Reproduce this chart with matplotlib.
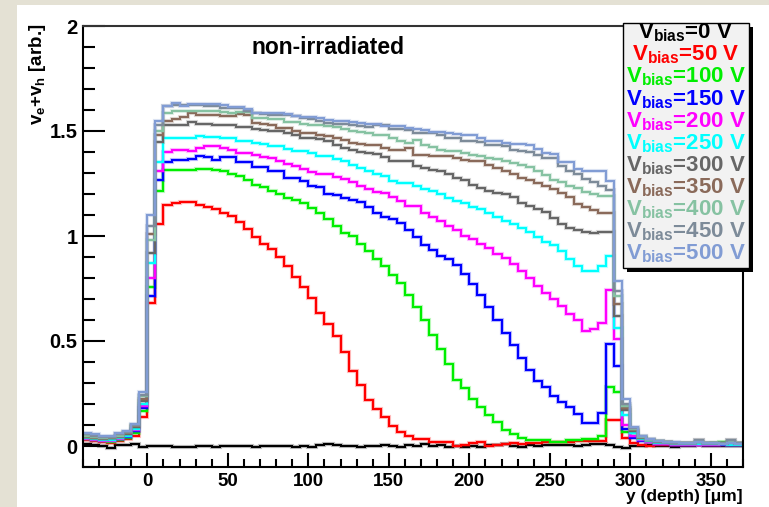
import numpy as np
import matplotlib
matplotlib.use("Agg")
import matplotlib.pyplot as plt
from matplotlib.patches import Rectangle
import matplotlib.patheffects as pe

plt.rcParams['font.family'] = ['Liberation Sans', 'DejaVu Sans']
plt.rcParams['mathtext.fontset'] = 'custom'
plt.rcParams['mathtext.rm'] = 'Liberation Sans:bold'
plt.rcParams['mathtext.it'] = 'Liberation Sans:bold'
plt.rcParams['mathtext.bf'] = 'Liberation Sans:bold'

# ---------------- data ----------------
bin_edges_um = list(range(-40, 371, 5))   # 82 bins of 5 um
bias_labels = ["0", "50", "100", "150", "200", "250", "300", "350", "400", "450", "500"]
series_colors = ["#000000", "#ff0000", "#00ee00", "#0000ff", "#ff00ff", "#00ffff",
                 "#666666", "#8a6a5a", "#86c2a2", "#7d8b99", "#819cd4"]

v0 = [0.010, 0.005, 0.000, -0.008, 0.005, 0.005, 0.008, -0.005, 0.000, 0.000,
      0.000, -0.003, -0.003, -0.003, 0.002, 0.002, -0.003, 0.000, 0.000, 0.000,
      0.000, -0.003, 0.000, 0.000, 0.000, 0.000, -0.003, 0.000, -0.003, 0.003,
      0.008, 0.003, 0.000, 0.000, -0.003, 0.000, 0.000, 0.005, 0.000, -0.005,
      0.003, 0.000, 0.008, 0.000, 0.005, -0.003, 0.000, -0.005, 0.000, -0.003,
      0.003, 0.005, 0.008, 0.000, -0.003, 0.003, 0.000, 0.005, 0.003, 0.005,
      0.003, 0.000, 0.003, 0.008, 0.008, 0.003, -0.003, -0.008, 0.000, 0.000,
      0.003, 0.000, 0.000, -0.003, 0.000, 0.000, 0.003, 0.000, 0.000, 0.000,
      0.000, 0.000]
v50 = [0.030, 0.025, 0.020, 0.015, 0.025, 0.035, 0.050, 0.140, 0.680, 1.055,
       1.147, 1.158, 1.160, 1.160, 1.150, 1.138, 1.127, 1.111, 1.095, 1.065,
       1.035, 0.995, 0.963, 0.937, 0.900, 0.858, 0.805, 0.758, 0.707, 0.631,
       0.581, 0.525, 0.449, 0.359, 0.291, 0.220, 0.178, 0.138, 0.095, 0.068,
       0.046, 0.035, 0.035, 0.019, 0.020, 0.020, 0.000, 0.005, 0.015, 0.020,
       0.000, 0.005, 0.010, 0.015, 0.010, 0.015, 0.015, 0.020, 0.020, 0.020,
       0.020, 0.025, 0.025, 0.025, 0.025, 0.125, 0.125, 0.040, 0.012, 0.005,
       0.000, 0.005, 0.005, 0.003, 0.005, 0.003, 0.005, 0.003, 0.005, 0.003,
       0.005, 0.003]
v100 = [0.035, 0.030, 0.025, 0.020, 0.030, 0.040, 0.060, 0.165, 0.755, 1.214,
        1.312, 1.312, 1.316, 1.316, 1.320, 1.320, 1.316, 1.310, 1.296, 1.285,
        1.269, 1.245, 1.232, 1.214, 1.198, 1.180, 1.170, 1.158, 1.134, 1.111,
        1.079, 1.047, 1.016, 1.000, 0.963, 0.929, 0.889, 0.858, 0.815, 0.778,
        0.720, 0.660, 0.600, 0.530, 0.460, 0.390, 0.312, 0.277, 0.225, 0.185,
        0.146, 0.114, 0.075, 0.059, 0.040, 0.027, 0.027, 0.027, 0.019, 0.019,
        0.027, 0.027, 0.035, 0.035, 0.046, 0.280, 0.256, 0.066, 0.050, 0.040,
        0.025, 0.015, 0.015, 0.010, 0.010, 0.010, 0.008, 0.010, 0.015, 0.020,
        0.010, 0.008]
v150 = [0.040, 0.035, 0.030, 0.030, 0.035, 0.045, 0.070, 0.180, 0.715, 1.269,
        1.353, 1.360, 1.360, 1.366, 1.382, 1.374, 1.360, 1.374, 1.374, 1.353,
        1.353, 1.330, 1.330, 1.310, 1.310, 1.275, 1.275, 1.260, 1.240, 1.235,
        1.200, 1.195, 1.180, 1.170, 1.160, 1.140, 1.110, 1.090, 1.079, 1.063,
        1.027, 0.995, 0.957, 0.932, 0.905, 0.889, 0.862, 0.821, 0.771, 0.720,
        0.660, 0.600, 0.540, 0.480, 0.420, 0.360, 0.310, 0.280, 0.240, 0.209,
        0.185, 0.154, 0.109, 0.109, 0.158, 0.486, 0.380, 0.080, 0.040, 0.025,
        0.020, 0.010, 0.010, 0.005, 0.005, 0.003, 0.005, 0.005, 0.003, 0.005,
        0.005, 0.003]
v200 = [0.035, 0.030, 0.025, 0.025, 0.035, 0.050, 0.075, 0.190, 0.800, 1.309,
        1.400, 1.410, 1.410, 1.405, 1.419, 1.427, 1.427, 1.419, 1.410, 1.395,
        1.395, 1.385, 1.375, 1.370, 1.356, 1.345, 1.332, 1.320, 1.305, 1.293,
        1.293, 1.280, 1.270, 1.255, 1.240, 1.225, 1.210, 1.206, 1.185, 1.166,
        1.142, 1.142, 1.111, 1.090, 1.071, 1.047, 1.027, 1.000, 0.984, 0.960,
        0.945, 0.913, 0.897, 0.866, 0.834, 0.802, 0.763, 0.730, 0.700, 0.668,
        0.628, 0.600, 0.549, 0.557, 0.584, 0.742, 0.510, 0.100, 0.050, 0.030,
        0.020, 0.010, 0.010, 0.005, 0.005, 0.003, 0.005, 0.003, 0.003, 0.010,
        0.005, 0.003]
v250 = [0.040, 0.035, 0.030, 0.030, 0.040, 0.050, 0.080, 0.200, 0.870, 1.353,
        1.467, 1.467, 1.467, 1.467, 1.475, 1.470, 1.470, 1.465, 1.465, 1.451,
        1.451, 1.445, 1.440, 1.427, 1.427, 1.415, 1.404, 1.404, 1.395, 1.380,
        1.380, 1.365, 1.355, 1.340, 1.325, 1.310, 1.293, 1.285, 1.264, 1.253,
        1.253, 1.237, 1.222, 1.215, 1.198, 1.182, 1.166, 1.155, 1.138, 1.127,
        1.111, 1.090, 1.071, 1.055, 1.039, 1.020, 0.995, 0.973, 0.957, 0.929,
        0.889, 0.858, 0.834, 0.834, 0.858, 0.904, 0.560, 0.150, 0.060, 0.035,
        0.025, 0.015, 0.012, 0.010, 0.008, 0.008, 0.010, 0.008, 0.008, 0.010,
        0.005, 0.005]
v300 = [0.045, 0.040, 0.035, 0.040, 0.045, 0.055, 0.090, 0.215, 0.920, 1.450,
        1.530, 1.530, 1.530, 1.542, 1.535, 1.535, 1.530, 1.530, 1.530, 1.517,
        1.517, 1.510, 1.505, 1.498, 1.498, 1.490, 1.479, 1.467, 1.467, 1.460,
        1.451, 1.435, 1.420, 1.410, 1.400, 1.395, 1.391, 1.375, 1.359, 1.359,
        1.355, 1.332, 1.325, 1.312, 1.310, 1.293, 1.274, 1.265, 1.245, 1.230,
        1.214, 1.205, 1.198, 1.185, 1.158, 1.145, 1.127, 1.115, 1.087, 1.055,
        1.039, 1.030, 1.020, 1.015, 1.020, 1.020, 0.620, 0.170, 0.070, 0.040,
        0.030, 0.020, 0.020, 0.015, 0.015, 0.015, 0.027, 0.015, 0.015, 0.015,
        0.027, 0.015]
v350 = [0.045, 0.040, 0.040, 0.040, 0.050, 0.060, 0.095, 0.225, 1.010, 1.480,
        1.546, 1.558, 1.565, 1.585, 1.578, 1.578, 1.578, 1.570, 1.570, 1.582,
        1.575, 1.538, 1.535, 1.530, 1.514, 1.514, 1.502, 1.490, 1.490, 1.483,
        1.475, 1.467, 1.455, 1.445, 1.440, 1.432, 1.432, 1.420, 1.411, 1.411,
        1.419, 1.388, 1.388, 1.380, 1.380, 1.380, 1.372, 1.364, 1.356, 1.356,
        1.337, 1.325, 1.309, 1.295, 1.274, 1.265, 1.253, 1.240, 1.222, 1.205,
        1.185, 1.153, 1.140, 1.125, 1.110, 1.110, 0.676, 0.180, 0.075, 0.045,
        0.030, 0.025, 0.020, 0.015, 0.015, 0.015, 0.020, 0.015, 0.015, 0.015,
        0.020, 0.012]
v400 = [0.050, 0.045, 0.040, 0.045, 0.050, 0.065, 0.100, 0.240, 0.980, 1.500,
        1.585, 1.593, 1.593, 1.595, 1.595, 1.595, 1.595, 1.590, 1.585, 1.590,
        1.590, 1.561, 1.561, 1.555, 1.555, 1.542, 1.542, 1.535, 1.530, 1.530,
        1.525, 1.520, 1.510, 1.500, 1.495, 1.490, 1.479, 1.479, 1.465, 1.451,
        1.445, 1.455, 1.435, 1.425, 1.411, 1.405, 1.405, 1.395, 1.388, 1.380,
        1.372, 1.365, 1.356, 1.350, 1.340, 1.330, 1.309, 1.290, 1.269, 1.255,
        1.237, 1.230, 1.210, 1.200, 1.190, 1.190, 0.715, 0.190, 0.080, 0.045,
        0.030, 0.025, 0.020, 0.015, 0.015, 0.015, 0.020, 0.015, 0.015, 0.015,
        0.020, 0.012]
v450 = [0.055, 0.050, 0.045, 0.045, 0.055, 0.065, 0.100, 0.245, 1.050, 1.530,
        1.617, 1.622, 1.622, 1.625, 1.622, 1.617, 1.617, 1.609, 1.609, 1.609,
        1.595, 1.585, 1.580, 1.578, 1.578, 1.575, 1.570, 1.561, 1.555, 1.550,
        1.538, 1.535, 1.535, 1.530, 1.525, 1.520, 1.530, 1.530, 1.511, 1.511,
        1.505, 1.490, 1.490, 1.490, 1.480, 1.467, 1.465, 1.451, 1.451, 1.450,
        1.435, 1.435, 1.430, 1.411, 1.405, 1.400, 1.388, 1.372, 1.372, 1.332,
        1.309, 1.293, 1.270, 1.255, 1.240, 1.220, 0.740, 0.200, 0.085, 0.050,
        0.035, 0.025, 0.020, 0.015, 0.015, 0.015, 0.027, 0.015, 0.015, 0.015,
        0.027, 0.015]
v500 = [0.060, 0.055, 0.050, 0.050, 0.060, 0.070, 0.105, 0.256, 1.100, 1.550,
        1.620, 1.633, 1.620, 1.630, 1.628, 1.628, 1.628, 1.625, 1.615, 1.615,
        1.606, 1.585, 1.585, 1.585, 1.588, 1.580, 1.570, 1.565, 1.565, 1.560,
        1.554, 1.550, 1.550, 1.545, 1.540, 1.535, 1.533, 1.525, 1.522, 1.522,
        1.515, 1.511, 1.505, 1.495, 1.495, 1.490, 1.488, 1.483, 1.483, 1.467,
        1.451, 1.451, 1.445, 1.438, 1.438, 1.435, 1.416, 1.395, 1.390, 1.353,
        1.353, 1.317, 1.310, 1.310, 1.310, 1.260, 0.786, 0.226, 0.090, 0.050,
        0.035, 0.025, 0.020, 0.020, 0.015, 0.015, 0.020, 0.015, 0.015, 0.010,
        0.012, 0.010]

series_values = [v0, v50, v100, v150, v200, v250, v300, v350, v400, v450, v500]

# ---------------- figure ----------------
W, H = 769, 507
fig = plt.figure(figsize=(W / 100, H / 100), dpi=100)
fig.patch.set_facecolor("#e4e1d4")
fig.patches.append(Rectangle((17 / W, 0), 1 - 17 / W, 1 - 5 / H, transform=fig.transFigure,
                             facecolor="white", edgecolor="none", zorder=-5))

ax = fig.add_axes([83 / W, 1 - 467 / H, (743 - 83) / W, (467 - 26) / H])
ax.set_facecolor("white")
ax.set_xlim(-40, 370)
ax.set_ylim(-0.1, 2.0)

for vals, col in zip(series_values, series_colors):
    ax.stairs(vals, bin_edges_um, color=col, lw=1.5, baseline=None,
              path_effects=[pe.Stroke(linewidth=3.0, foreground=col, alpha=0.25), pe.Normal()])

for sp in ax.spines.values():
    sp.set_linewidth(1.5)
ax.spines['top'].set_color('#333333')
ax.set_xticks(range(0, 351, 50))
ax.set_xticks(range(-40, 371, 10), minor=True)
ax.set_yticks([0, 0.5, 1, 1.5, 2])
ax.set_yticklabels(["0", "0.5", "1", "1.5", "2"])
ax.set_yticks(np.arange(-0.1, 2.0, 0.1), minor=True)
ax.tick_params(axis='x', which='major', direction='in', length=10, width=1.5, pad=4,
               labelsize=13.5)
ax.tick_params(axis='x', which='minor', direction='in', length=5.5, width=1.5)
ax.tick_params(axis='y', which='major', direction='in', length=16, width=1.5, pad=4,
               labelsize=14.5)
ax.tick_params(axis='y', which='minor', direction='in', length=8.5, width=1.5)
for lab in ax.get_xticklabels() + ax.get_yticklabels():
    lab.set_fontweight('bold')

fig.text(743 / W, 1 - 497 / H, "y (depth) [\u03bcm]", ha='right', va='center',
         fontsize=12.5, fontweight='bold')
fig.text(37 / W, 1 - 24 / H, r"$\mathrm{v_e{+}v_h}$ [arb.]", ha='center', va='top',
         rotation=90, fontsize=13.5, fontweight='bold')
fig.text(328 / W, 1 - 48 / H, "non-irradiated", ha='center', va='center',
         fontsize=16.5, fontweight='bold')

# legend box (ROOT style with shadow)
bx0, bx1, by0, by1 = 623, 749, 23, 268
fig.patches.append(Rectangle(((bx0 + 4) / W, 1 - (by1 + 4) / H), (bx1 - bx0) / W, (by1 - by0) / H,
                             transform=fig.transFigure, facecolor="black", edgecolor="none", zorder=5))
fig.patches.append(Rectangle((bx0 / W, 1 - by1 / H), (bx1 - bx0) / W, (by1 - by0) / H,
                             transform=fig.transFigure, facecolor="#f2f2f2", edgecolor="black",
                             lw=1.0, zorder=6))
for k, (lab, col) in enumerate(zip(bias_labels, series_colors)):
    fig.text(686 / W, 1 - (33 + 22.1 * k) / H, r"V$_{\mathrm{bias}}$=" + lab + " V",
             ha='center', va='center', fontsize=16, fontweight='bold', color=col, zorder=7)

fig.savefig("out.png", dpi=100, facecolor=fig.get_facecolor())
